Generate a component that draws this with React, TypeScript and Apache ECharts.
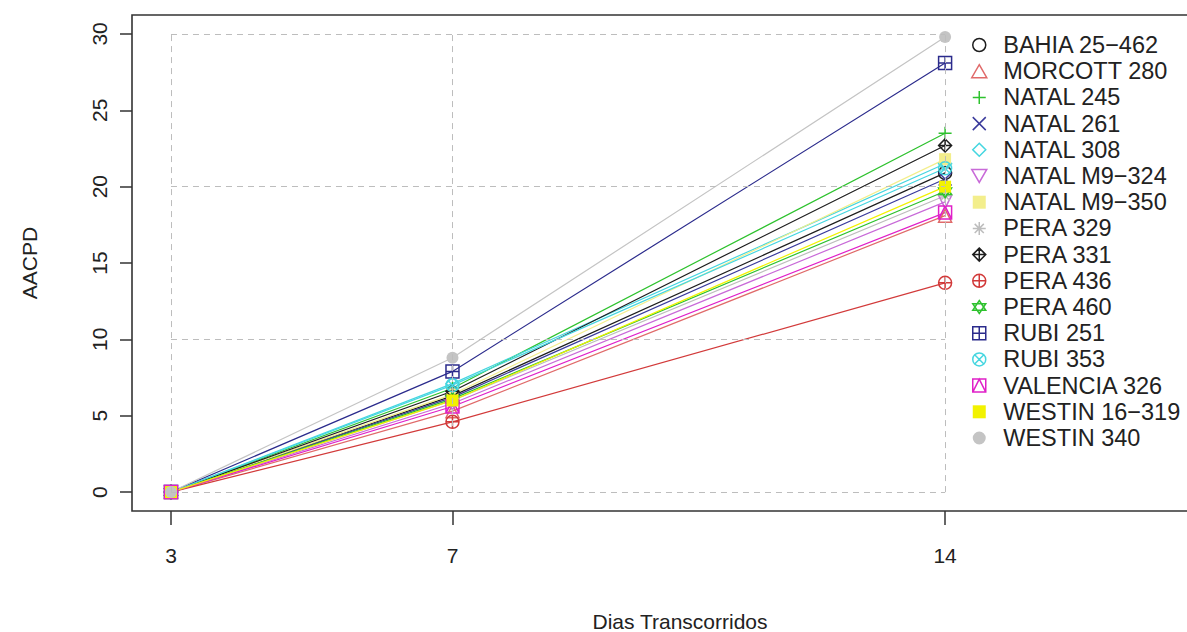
import React, { useEffect, useRef } from "react";
import * as echarts from "echarts";

// ---- Data ----
const xDays = [3, 7, 14];
const yTicks = [0, 5, 10, 15, 20, 25, 30];
const gridY = [0, 10, 20, 30];

const seriesNames = [
  "BAHIA 25\u2212462",
  "MORCOTT 280",
  "NATAL 245",
  "NATAL 261",
  "NATAL 308",
  "NATAL M9\u2212324",
  "NATAL M9\u2212350",
  "PERA 329",
  "PERA 331",
  "PERA 436",
  "PERA 460",
  "RUBI 251",
  "RUBI 353",
  "VALENCIA 326",
  "WESTIN 16\u2212319",
  "WESTIN 340",
];

const bahia25462 = [0, 6.3, 20.9];
const morcott280 = [0, 5.3, 18.1];
const natal245 = [0, 6.8, 23.5];
const natal261 = [0, 6.2, 20.5];
const natal308 = [0, 7.1, 21.5];
const natalM9324 = [0, 5.8, 19.0];
const natalM9350 = [0, 6.4, 21.8];
const pera329 = [0, 6.0, 19.4];
const pera331 = [0, 6.6, 22.7];
const pera436 = [0, 4.6, 13.7];
const pera460 = [0, 6.1, 19.7];
const rubi251 = [0, 7.9, 28.1];
const rubi353 = [0, 7.0, 21.2];
const valencia326 = [0, 5.6, 18.3];
const westin16319 = [0, 6.0, 20.0];
const westin340 = [0, 8.8, 29.8];

const seriesValues = [
  bahia25462, morcott280, natal245, natal261, natal308, natalM9324, natalM9350, pera329,
  pera331, pera436, pera460, rubi251, rubi353, valencia326, westin16319, westin340,
];

// ---- Styles ----
const colors = [
  "#1e1e1e", "#e06a6a", "#2ec22e", "#3b3b9c", "#45d6e0", "#c86ad8", "#f3ee8c", "#bdbdbd",
  "#1e1e1e", "#d23a3a", "#2ec22e", "#2b2b8c", "#45d6e0", "#e020c8", "#f2f200", "#c4c4c4",
];

const P = {
  circle: "path://M0 5 A5 5 0 1 0 10 5 A5 5 0 1 0 0 5 Z",
  triUp: "path://M5 0 L10 8.66 L0 8.66 Z",
  plus: "path://M5 0 L5 10 M0 5 L10 5",
  cross: "path://M0 0 L10 10 M10 0 L0 10",
  diamond: "path://M5 0 L10 5 L5 10 L0 5 Z",
  triDown: "path://M0 0 L10 0 L5 8.66 Z",
  asterisk: "path://M5 0 L5 10 M0 5 L10 5 M1.5 1.5 L8.5 8.5 M8.5 1.5 L1.5 8.5",
  diamondPlus: "path://M5 0 L10 5 L5 10 L0 5 Z M5 0 L5 10 M0 5 L10 5",
  circlePlus: "path://M0 5 A5 5 0 1 0 10 5 A5 5 0 1 0 0 5 Z M5 0 L5 10 M0 5 L10 5",
  star: "path://M5 0 L10 7.5 L0 7.5 Z M5 10 L10 2.5 L0 2.5 Z",
  squarePlus: "path://M0 0 L10 0 L10 10 L0 10 Z M5 0 L5 10 M0 5 L10 5",
  circleX: "path://M0 5 A5 5 0 1 0 10 5 A5 5 0 1 0 0 5 Z M1.46 1.46 L8.54 8.54 M8.54 1.46 L1.46 8.54",
  squareTri: "path://M0 0 L10 0 L10 10 L0 10 Z M0 10 L5 0 L10 10",
  square: "path://M0 0 L10 0 L10 10 L0 10 Z",
};

const symbols = [
  P.circle, P.triUp, P.plus, P.cross, P.diamond, P.triDown, P.square, P.asterisk,
  P.diamondPlus, P.circlePlus, P.star, P.squarePlus, P.circleX, P.squareTri, P.square, P.circle,
];
const filled = [
  false, false, false, false, false, false, true, false,
  false, false, false, false, false, false, true, true,
];

const FONT = "'Liberation Sans', Arial, sans-serif";

function symbolStyle(i: number) {
  return filled[i]
    ? { color: colors[i], borderColor: colors[i], borderWidth: 0 }
    : { color: "rgba(0,0,0,0)", borderColor: colors[i], borderWidth: 1.5 };
}

export default function App() {
  const ref = useRef<HTMLDivElement>(null);

  useEffect(() => {
    document.body.style.margin = "0";
    if (!ref.current) return;
    const chart = echarts.init(ref.current, undefined, { renderer: "svg" });

    const gridLines: any[] = [];
    xDays.forEach((x) => gridLines.push([{ coord: [x, gridY[0]] }, { coord: [x, gridY[gridY.length - 1]] }]));
    gridY.forEach((y) => gridLines.push([{ coord: [xDays[0], y] }, { coord: [xDays[xDays.length - 1], y] }]));

    const series: any[] = seriesNames.map((name, i) => ({
      name,
      type: "line",
      data: xDays.map((x, j) => [x, seriesValues[i][j]]),
      symbol: symbols[i],
      symbolSize: filled[i] ? 12 : 13,
      showSymbol: true,
      lineStyle: { color: colors[i], width: 1.2 },
      itemStyle: symbolStyle(i),
      emphasis: { disabled: true },
      z: 3,
      ...(i === 0
        ? {
            markLine: {
              silent: true,
              symbol: ["none", "none"],
              label: { show: false },
              lineStyle: { color: "#bdbdbd", width: 1, type: [6, 5] },
              emphasis: { disabled: true },
              data: gridLines,
            },
          }
        : {}),
    }));

    chart.setOption({
      animation: false,
      backgroundColor: "#ffffff",
      grid: {
        show: true,
        left: 132,
        top: 15,
        width: 1096,
        height: 496,
        outerBoundsMode: "none",
        containLabel: false,
        borderColor: "#333333",
        borderWidth: 1.6,
        backgroundColor: "transparent",
      },
      xAxis: {
        type: "value",
        min: 2.446,
        max: 18.02,
        axisLine: { show: false, onZero: false },
        axisTick: { show: true, customValues: xDays, length: 14, lineStyle: { color: "#333", width: 1.5 } },
        axisLabel: { customValues: xDays, margin: 34, fontSize: 21, color: "#222", fontFamily: FONT },
        splitLine: { show: false },
        name: "Dias Transcorridos",
        nameLocation: "middle",
        nameGap: 100,
        nameTextStyle: { fontSize: 21, color: "#222", fontFamily: FONT },
      },
      yAxis: {
        type: "value",
        min: -1.24,
        max: 31.24,
        axisLine: { show: false, onZero: false },
        axisTick: { show: true, customValues: yTicks, length: 12, lineStyle: { color: "#333", width: 1.5 } },
        axisLabel: { customValues: yTicks, rotate: 90, margin: 22, fontSize: 21, color: "#222", fontFamily: FONT },
        splitLine: { show: false },
        name: "AACPD",
        nameLocation: "middle",
        nameGap: 92,
        nameRotate: 90,
        nameTextStyle: { fontSize: 21, color: "#222", fontFamily: FONT },
      },
      legend: {
        orient: "vertical",
        left: 966,
        top: 28,
        itemWidth: 38,
        itemHeight: 13,
        itemGap: 2.2,
        symbolKeepAspect: true,
        selectedMode: false,
        textStyle: { fontSize: 23.5, color: "#222", fontFamily: FONT },
        data: seriesNames.map((name, i) => ({
          name,
          icon: symbols[i],
          itemStyle: symbolStyle(i),
        })),
      },
      series,
    });

    return () => chart.dispose();
  }, []);

  return <div ref={ref} style={{ position: "absolute", left: 0, top: 0, width: 1187, height: 632 }} />;
}
